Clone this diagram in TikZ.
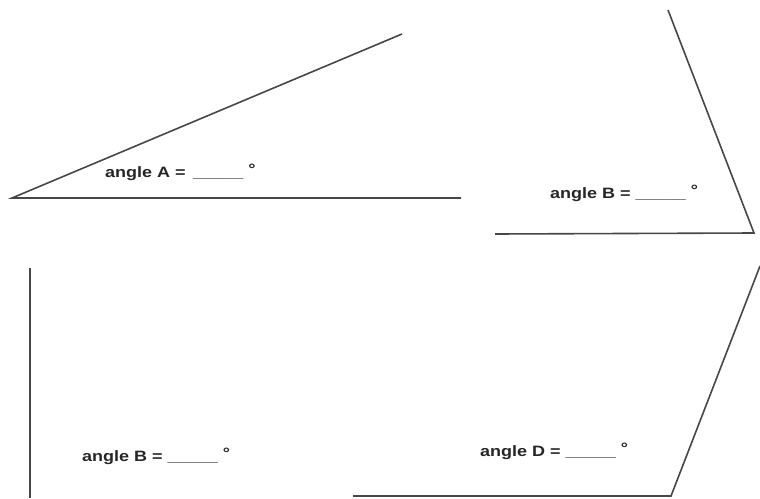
\documentclass[tikz,border=0pt]{standalone}
\usepackage{fontspec}
\setmainfont{Liberation Sans}
\newfontfamily\lblfont[FakeStretch=1.2]{Liberation Sans}
\begin{document}
\begin{tikzpicture}[x=1pt,y=-1pt,
  arm/.style={line width=1.6pt, draw=black!72, line cap=butt},
  lbl/.style={anchor=base west, inner sep=0pt, font=\lblfont\fontsize{15}{17}\selectfont\bfseries, text=black!85}]
\useasboundingbox (0,0) rectangle (760,498);
% angle A
\coordinate (a0) at (12,198);
\coordinate (a1) at (402,34);
\coordinate (a2) at (461,198);
\draw[arm] (a1) -- (a0) -- (a2);
\node[lbl] (la) at (105,177) {angle A =\,\,\,\_\_\_\_\_\,\,\raisebox{0.35ex}{°}};
% angle B (top right)
\coordinate (b0) at (754,233);
\coordinate (b1) at (668,10);
\coordinate (b2) at (495,234);
\draw[arm] (b1) -- (b0) -- (b2);
\node[lbl] (lb) at (550,198) {angle B =\,\,\_\_\_\_\_\,\,\raisebox{0.35ex}{°}};
% lower left angle
\coordinate (c1) at (30,268);
\coordinate (c0) at (30,498);
\draw[arm] (c1) -- (c0);
\node[lbl] (lc) at (82,461) {angle B =\,\,\_\_\_\_\_\,\,\raisebox{0.35ex}{°}};
% angle D
\coordinate (d0) at (671,496);
\coordinate (d1) at (760,266);
\coordinate (d2) at (353,496);
\draw[arm] (d1) -- (d0) -- (d2);
\node[lbl] (ld) at (480,456) {angle D =\,\,\_\_\_\_\_\,\,\raisebox{0.35ex}{°}};
\end{tikzpicture}
\end{document}
